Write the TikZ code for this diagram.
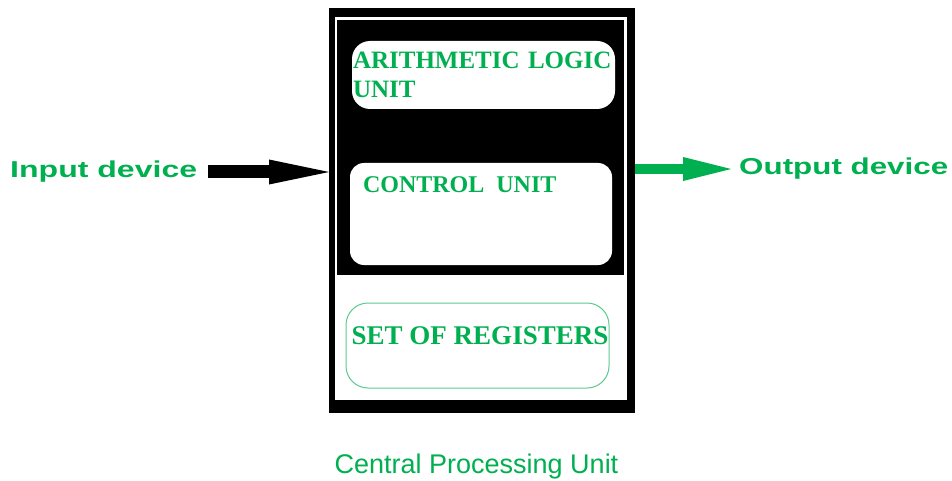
\documentclass[tikz,border=0pt]{standalone}
\usepackage{fontspec}
\setmainfont{Liberation Sans}
\newfontfamily\unitfont{Liberation Serif}
\usepackage{graphicx}
\usetikzlibrary{arrows.meta,positioning}
\definecolor{cpugreen}{HTML}{00B050}
\definecolor{reggreen}{HTML}{5CCB90}
\newcommand\widen[2]{\resizebox{#1}{\height}{#2}}

\begin{document}
\begin{tikzpicture}[
x=1pt,y=-1pt,
devlabel/.style={text=cpugreen,font=\fontsize{23}{26}\selectfont\bfseries,inner sep=0pt,anchor=west},
unitbox/.style={fill=white,inner sep=1pt,text=cpugreen},
inarrow/.style={-{Triangle[length=60pt,width=25pt,line width=0pt]},line width=13pt,black},
outarrow/.style={-{Triangle[length=48pt,width=24pt,line width=0pt]},line width=10pt,cpugreen}
]
\useasboundingbox (0,0) rectangle (952,481);
% processor frame
\node[fill=black,minimum width=306pt,minimum height=405pt,inner sep=0pt,anchor=north west] (cpu) at (329,8) {};
\fill[white] (335,17) rectangle (627,400);
\fill[black] (337,20) rectangle (624,275);
% units
\node[unitbox,minimum width=263pt,minimum height=68pt,rounded corners=18pt,
  text width=261pt,align=left,font=\unitfont\bfseries\fontsize{25}{29}\selectfont] (alu) at (483.5,75) {ARITHMETIC LOGIC\\UNIT};
\node[unitbox,minimum width=262pt,minimum height=102pt,rounded corners=14pt,
  label={[anchor=north west,inner sep=0pt,xshift=13pt,yshift=-14pt,text=cpugreen,font=\unitfont\bfseries\fontsize{24}{28}\selectfont]north west:CONTROL\ \ UNIT}] (cu) at (481,214) {};
\node[unitbox,draw=reggreen,line width=1pt,minimum width=263pt,minimum height=85pt,rounded corners=22pt,
  label={[inner sep=0pt,xshift=2.5pt,yshift=9.5pt,text=cpugreen,font=\unitfont\bfseries\fontsize{27}{30}\selectfont]center:SET OF REGISTERS}] (regs) at (477.5,345.5) {};
% devices
\node[devlabel] (indev) at (10,172) {\widen{187pt}{Input device}};
\node[devlabel] (outdev) at (739,169) {\widen{209pt}{Output device}};
\draw[inarrow,shorten <=11pt,yshift=-2pt] (indev) -- (cpu.west |- indev);
\draw[outarrow,shorten >=8pt] (cpu.east |- outdev) -- (outdev);
\node[text=cpugreen,font=\fontsize{27}{30}\selectfont] (cpuname) at (476.5,467) {Central Processing Unit};
\end{tikzpicture}
\end{document}
